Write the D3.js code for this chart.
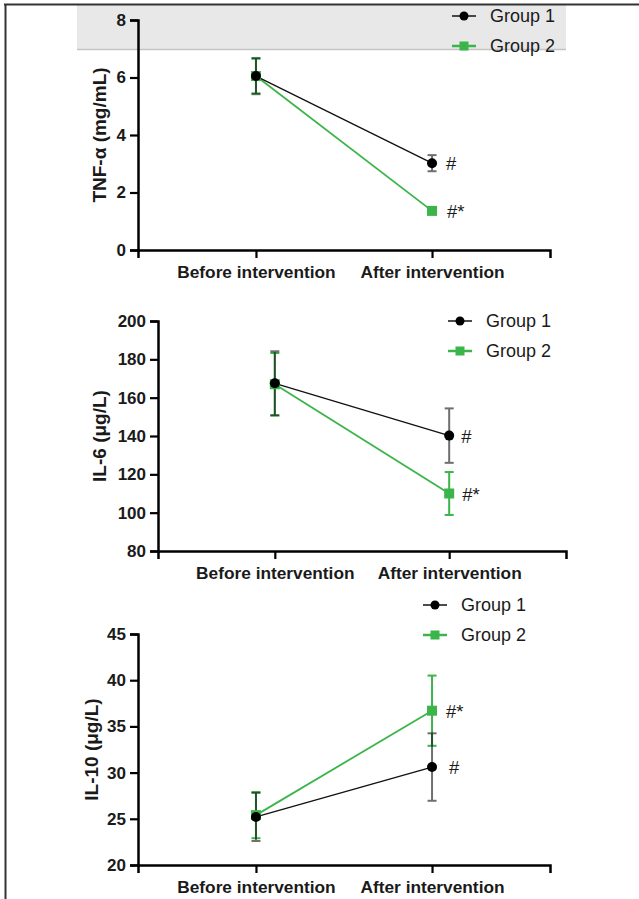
<!DOCTYPE html>
<html>
<head>
<meta charset="utf-8">
<script src="https://cdn.jsdelivr.net/npm/d3@7"></script>
<style>
  body { margin: 0; background: #fff; }
  svg { display: block; }
</style>
</head>
<body>
<div id="main"></div>
<script>
// ---- data ----
var categories = ["Before intervention", "After intervention"];
var groups = ["Group 1", "Group 2"];

var tnfG1 = [6.05, 3.02];
var tnfG1Sd = [0.63, 0.28];
var tnfG2 = [6.05, 1.36];
var tnfG2Sd = [0.6, 0.08];
var tnfTicks = [0, 2, 4, 6, 8];

var il6G1 = [167.5, 140.2];
var il6G1Sd = [16.7, 14.2];
var il6G2 = [167.0, 110.0];
var il6G2Sd = [16.3, 11.2];
var il6Ticks = [80, 100, 120, 140, 160, 180, 200];

var il10G1 = [25.2, 30.6];
var il10G1Sd = [2.6, 3.65];
var il10G2 = [25.4, 36.7];
var il10G2Sd = [2.5, 3.8];
var il10Ticks = [20, 25, 30, 35, 40, 45];

var marksG1 = ["", "#"];
var marksG2 = ["", "#*"];

var ctx = {
    w: 639,
    h: 899,
    GREEN: "#3bb54a",
    FONT: "'Liberation Sans', Arial, sans-serif"
};

var panels = [
    {label: "TNF-α (mg/mL)", g1: tnfG1, s1: tnfG1Sd, g2: tnfG2, s2: tnfG2Sd, ticks: tnfTicks,
     x0: 138, x1: 550, yTop: 20, yBot: 250, labelX: 99, legX: 452, legY: 16, markDx: [14, 15]},
    {label: "IL-6 (μg/L)", g1: il6G1, s1: il6G1Sd, g2: il6G2, s2: il6G2Sd, ticks: il6Ticks,
     x0: 158, x1: 566, yTop: 321, yBot: 551, labelX: 99, legX: 448, legY: 321, markDx: [12, 13]},
    {label: "IL-10 (μg/L)", g1: il10G1, s1: il10G1Sd, g2: il10G2, s2: il10G2Sd, ticks: il10Ticks,
     x0: 138, x1: 550, yTop: 634, yBot: 865, labelX: 91, legX: 423, legY: 605, markDx: [17, 14]}
];

var drawPanel = function(svg, p) {
    var g = svg.append("g");
    var x = d3.scalePoint().domain(categories).range([p.x0, p.x1]).padding(0.67);
    var y = d3.scaleLinear().domain(d3.extent(p.ticks)).range([p.yBot, p.yTop]);

    // axes
    var ax = g.append("g")
        .attr("transform", "translate(0," + p.yBot + ")")
        .call(d3.axisBottom(x).tickSizeOuter(0).tickSize(8).tickPadding(8));
    var ay = g.append("g")
        .attr("transform", "translate(" + p.x0 + ",0)")
        .call(d3.axisLeft(y).tickValues(p.ticks).tickSizeOuter(0).tickSize(8).tickPadding(4));
    [ax, ay].forEach(function(a) {
        a.select(".domain").attr("stroke", "#000").attr("stroke-width", 2.5);
        a.selectAll(".tick line").attr("stroke", "#000").attr("stroke-width", 2.2);
        a.selectAll("text")
            .attr("fill", "#1a1a1a")
            .style("font-family", ctx.FONT)
            .style("font-weight", "bold");
    });
    ax.selectAll("text").style("font-size", "17.3px");
    ay.selectAll("text").style("font-size", "17px");

    // y label
    g.append("text")
        .attr("transform", "translate(" + p.labelX + "," + ((p.yTop + p.yBot) / 2) + ") rotate(-90)")
        .attr("text-anchor", "middle")
        .attr("dominant-baseline", "central")
        .style("font-family", ctx.FONT)
        .style("font-weight", "bold")
        .style("font-size", "19px")
        .attr("fill", "#1a1a1a")
        .text(p.label);

    var series = [
        {v: p.g2, s: p.s2, color: ctx.GREEN, lw: 1.8, name: groups[1], marks: marksG2, dx: p.markDx[1]},
        {v: p.g1, s: p.s1, color: "#111", lw: 1.3, name: groups[0], marks: marksG1, dx: p.markDx[0]}
    ];
    var line = d3.line()
        .x(function(d, i) { return x(categories[i]); })
        .y(function(d) { return y(d); });

    // connecting lines
    series.forEach(function(s) {
        g.append("path")
            .datum(s.v)
            .attr("d", line)
            .attr("fill", "none")
            .attr("stroke", s.color)
            .attr("stroke-width", s.lw);
    });

    // error bars (group 1 drawn semi-transparent on top, overlap turns dark green)
    series.forEach(function(s, k) {
        var eg = g.append("g")
            .attr("stroke", s.color)
            .attr("stroke-width", 2)
            .attr("opacity", k === 1 ? 0.6 : 1);
        s.v.forEach(function(d, i) {
            var cx = x(categories[i]);
            var lo = y(d - s.s[i]), hi = y(d + s.s[i]);
            eg.append("line").attr("x1", cx).attr("x2", cx).attr("y1", lo).attr("y2", hi);
            eg.append("line").attr("x1", cx - 4.5).attr("x2", cx + 4.5).attr("y1", lo).attr("y2", lo);
            eg.append("line").attr("x1", cx - 4.5).attr("x2", cx + 4.5).attr("y1", hi).attr("y2", hi);
        });
    });

    // markers
    g.selectAll("rect.m2").data(p.g2).enter().append("rect")
        .attr("x", function(d, i) { return x(categories[i]) - 5; })
        .attr("y", function(d) { return y(d) - 5; })
        .attr("width", 10).attr("height", 10)
        .attr("fill", ctx.GREEN);
    g.selectAll("circle.m1").data(p.g1).enter().append("circle")
        .attr("cx", function(d, i) { return x(categories[i]); })
        .attr("cy", function(d) { return y(d); })
        .attr("r", 5)
        .attr("fill", "#000");

    // significance marks
    series.forEach(function(s) {
        s.v.forEach(function(d, i) {
            if (!s.marks[i]) return;
            g.append("text")
                .attr("x", x(categories[i]) + s.dx)
                .attr("y", y(d) + 7)
                .style("font-family", ctx.FONT)
                .style("font-size", "18.5px")
                .attr("fill", "#1a1a1a")
                .text(s.marks[i]);
        });
    });

    // legend
    var lg = g.append("g").attr("transform", "translate(" + p.legX + "," + p.legY + ")");
    [series[1], series[0]].forEach(function(s, i) {
        var row = lg.append("g").attr("transform", "translate(0," + (i * 30) + ")");
        row.append("line").attr("x1", 0).attr("x2", 24).attr("y1", 0).attr("y2", 0)
            .attr("stroke", s.color).attr("stroke-width", i === 0 ? 1.5 : 2.5);
        if (i === 0) {
            row.append("circle").attr("cx", 12).attr("cy", 0).attr("r", 4.5).attr("fill", "#000");
        } else {
            row.append("rect").attr("x", 7.5).attr("y", -4.5).attr("width", 9).attr("height", 9).attr("fill", ctx.GREEN);
        }
        row.append("text")
            .attr("x", 38)
            .attr("y", 0)
            .attr("dominant-baseline", "central")
            .style("font-family", ctx.FONT)
            .style("font-size", "18px")
            .attr("fill", "#1a1a1a")
            .text(s.name);
    });
};

var createViz = function() {
    var svg = d3.select("#main").append("svg")
        .attr("width", ctx.w)
        .attr("height", ctx.h);
    // grey band at the top of the first panel
    svg.append("rect")
        .attr("x", 77).attr("y", 5).attr("width", 489).attr("height", 45)
        .attr("fill", "#e8e8e8");
    svg.append("line")
        .attr("x1", 77).attr("x2", 566).attr("y1", 49.5).attr("y2", 49.5)
        .attr("stroke", "#c4c4c4").attr("stroke-width", 1.5);
    // frame
    svg.append("line")
        .attr("x1", 4).attr("x2", ctx.w).attr("y1", 4.5).attr("y2", 4.5)
        .attr("stroke", "#333").attr("stroke-width", 2);
    svg.append("line")
        .attr("x1", 5.5).attr("x2", 5.5).attr("y1", 4).attr("y2", ctx.h)
        .attr("stroke", "#333").attr("stroke-width", 2);

    panels.forEach(function(p) { drawPanel(svg, p); });
};

createViz();
</script>
</body>
</html>
